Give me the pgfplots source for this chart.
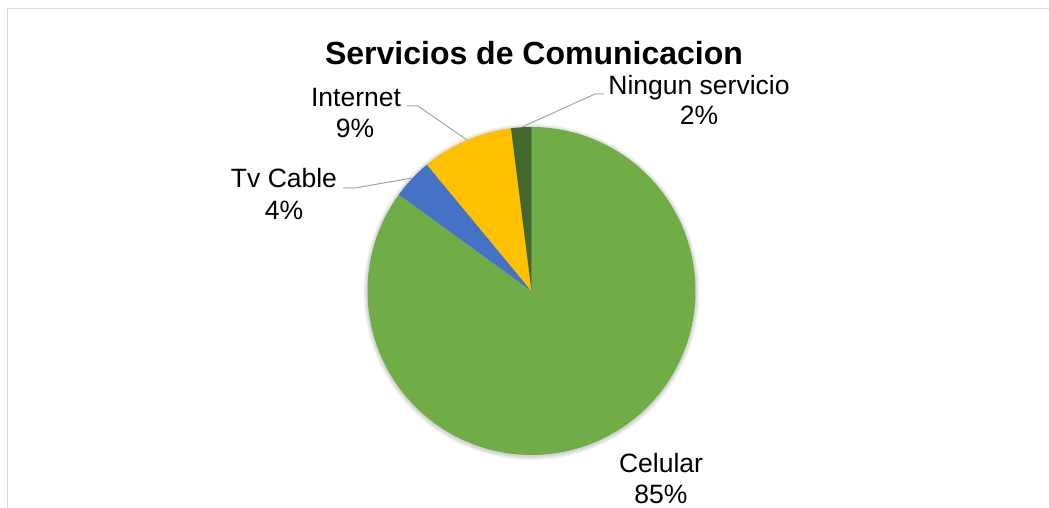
\documentclass[border=0pt]{standalone}
\usepackage{fontspec}
\setmainfont{Liberation Sans}
\usepackage{pgfplots}
\pgfplotsset{compat=1.18}
\usepackage{pgfplotstable}

\definecolor{cel}{HTML}{70AD47}
\definecolor{tvc}{HTML}{4472C4}
\definecolor{inet}{HTML}{FFC000}
\definecolor{ning}{HTML}{43682B}
\definecolor{lead}{HTML}{A6A6A6}
\definecolor{framec}{HTML}{D9D9D9}

\pgfplotstableread{
label value
Celular 85
TvCable 4
Internet 9
Ningun 2
}\piedata

\begin{document}
\begin{tikzpicture}
\pgfplotstablegetelem{0}{value}\of\piedata \let\vCel\pgfplotsretval
\pgfplotstablegetelem{1}{value}\of\piedata \let\vTv\pgfplotsretval
\pgfplotstablegetelem{2}{value}\of\piedata \let\vInt\pgfplotsretval
\pgfplotstablegetelem{3}{value}\of\piedata \let\vNin\pgfplotsretval
\def\cx{531.5}\def\cy{217}\def\R{164}
\pgfmathsetmacro{\aA}{90}
\pgfmathsetmacro{\aB}{\aA-3.6*\vCel}
\pgfmathsetmacro{\aC}{\aB-3.6*\vTv}
\pgfmathsetmacro{\aD}{\aC-3.6*\vInt}
\pgfmathsetmacro{\aE}{\aD-3.6*\vNin}
\begin{axis}[at={(0,0)}, anchor=south west, scale only axis,
  width=1049bp, height=508bp, xmin=0, xmax=1049, ymin=0, ymax=508,
  hide axis, clip=false]
% frame
\draw[framec, line width=1.5bp] (axis cs:7.5,0) -- (axis cs:7.5,499.5) -- (axis cs:1049,499.5);
% soft shadow
\fill[black, opacity=0.045] (axis cs:531.5,216) circle[radius=165bp];
\fill[black, opacity=0.045] (axis cs:531.5,216) circle[radius=166bp];
\fill[black, opacity=0.045] (axis cs:531.5,216) circle[radius=167bp];
\fill[black, opacity=0.045] (axis cs:531.5,216) circle[radius=168bp];
% wedges
\addplot[fill=cel, draw=none, domain=\aB:\aA, samples=240, variable=\t]
  ({\cx+\R*cos(\t)},{\cy+\R*sin(\t)}) -- (axis cs:\cx,\cy) -- cycle;
\addplot[fill=tvc, draw=none, domain=\aC:\aB, samples=20, variable=\t]
  ({\cx+\R*cos(\t)},{\cy+\R*sin(\t)}) -- (axis cs:\cx,\cy) -- cycle;
\addplot[fill=inet, draw=none, domain=\aD:\aC, samples=40, variable=\t]
  ({\cx+\R*cos(\t)},{\cy+\R*sin(\t)}) -- (axis cs:\cx,\cy) -- cycle;
\addplot[fill=ning, draw=none, domain=\aE:\aD, samples=10, variable=\t]
  ({\cx+\R*cos(\t)},{\cy+\R*sin(\t)}) -- (axis cs:\cx,\cy) -- cycle;
% leader lines
\draw[lead, line width=1bp] (axis cs:522,381) -- (axis cs:595,414) -- (axis cs:604,414);
\draw[lead, line width=1bp] (axis cs:407,402) -- (axis cs:418,402) -- (axis cs:467,368);
\draw[lead, line width=1bp] (axis cs:343,320) -- (axis cs:355,320) -- (axis cs:412,330);
% title
\node[anchor=base, font=\fontsize{32bp}{36bp}\selectfont\bfseries] at (axis cs:534,443) {Servicios de Comunicacion};
% labels
\node[anchor=base, inner sep=0pt, font=\fontsize{26.5bp}{30bp}\selectfont] at (axis cs:699,413) {Ningun servicio};
\node[anchor=base, inner sep=0pt, font=\fontsize{26.5bp}{30bp}\selectfont] at (axis cs:699,383) {2\%};
\node[anchor=base, inner sep=0pt, font=\fontsize{26.5bp}{30bp}\selectfont] at (axis cs:356,401) {Internet};
\node[anchor=base, inner sep=0pt, font=\fontsize{26.5bp}{30bp}\selectfont] at (axis cs:355,370) {9\%};
\node[anchor=base, inner sep=0pt, font=\fontsize{26.5bp}{30bp}\selectfont] at (axis cs:284,320) {Tv Cable};
\node[anchor=base, inner sep=0pt, font=\fontsize{26.5bp}{30bp}\selectfont] at (axis cs:284,288) {4\%};
\node[anchor=base, inner sep=0pt, font=\fontsize{26.5bp}{30bp}\selectfont] at (axis cs:661,35) {Celular};
\node[anchor=base, inner sep=0pt, font=\fontsize{26.5bp}{30bp}\selectfont] at (axis cs:661,5) {85\%};
\end{axis}
\pgfresetboundingbox
\useasboundingbox (0,0) rectangle (1049bp,508bp);
\end{tikzpicture}
\end{document}
